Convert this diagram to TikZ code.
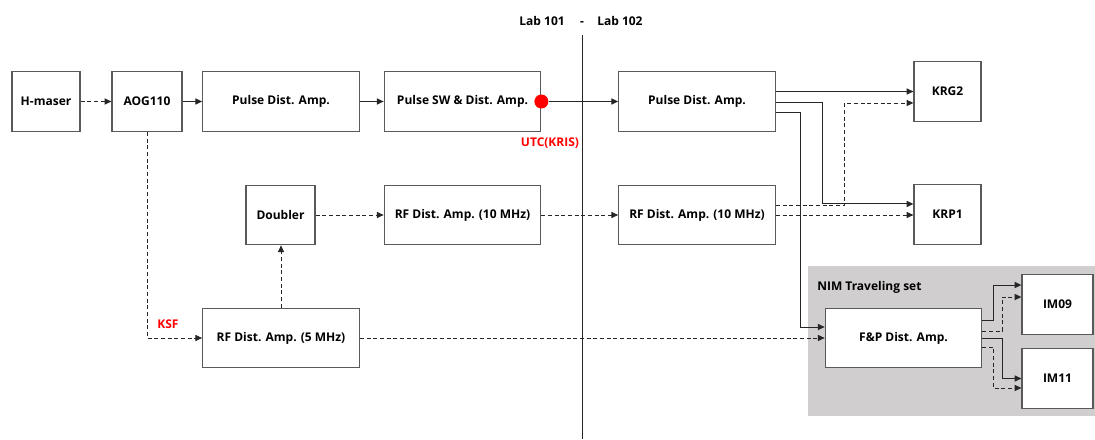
\documentclass[tikz,border=0pt]{standalone}
\usepackage{fontspec}
\setmainfont{Open Sans}
\usetikzlibrary{arrows.meta}
\definecolor{LineDark}{HTML}{262626}
\definecolor{BoxEdge}{HTML}{595959}
\definecolor{NimGray}{HTML}{D0CECE}
\definecolor{MarkRed}{HTML}{FF0000}
\tikzset{
  blk/.style={rectangle,draw=BoxEdge,fill=white,line width=0.9pt,inner sep=0pt,align=center,font=\fontsize{9}{11}\selectfont\bfseries,minimum height=44.6pt},
  wideblk/.style={blk,minimum width=117.4pt},
  narrowblk/.style={blk,minimum width=51.75pt},
  sline/.style={-{Triangle[length=5pt,width=4.5pt]},line width=0.75pt,color=LineDark},
  dline/.style={sline,line width=0.7pt,dash pattern=on 3pt off 2pt},
  redlbl/.style={font=\fontsize{9}{11}\selectfont\bfseries,text=MarkRed,inner sep=0pt},
  lablbl/.style={font=\fontsize{9}{11}\selectfont\bfseries,inner sep=0pt},
}

\begin{document}
\begin{tikzpicture}[x=0.75pt,y=-0.75pt]
  \useasboundingbox (0,0) rectangle (1095,439);

  % NIM traveling set area
  \fill[NimGray] (808,266) rectangle (1095,416);
  \node[lablbl, anchor=west] (nimlbl) at (817,287) {NIM Traveling set};

  % Lab border
  \draw[line width=0.7pt,color=LineDark] (582,35) -- (582,439);
  \node[lablbl, anchor=base east] (lab1) at (565,25) {Lab 101};
  \node[lablbl, anchor=base] (labsep) at (582,25) {-};
  \node[lablbl, anchor=base west] (lab2) at (597,25) {Lab 102};

  % Row 1: pulse chain
  \node[narrowblk, minimum width=51pt] (hmaser) at (46,101.5) {H-maser};
  \node[narrowblk, minimum width=52.5pt] (aog) at (147,101.5) {AOG110};
  \node[wideblk] (pda1) at (281,101.5) {Pulse Dist. Amp.};
  \node[wideblk] (psw) at (462.5,101.5) {Pulse SW \& Dist. Amp.};
  \node[wideblk] (pda2) at (697,101.5) {Pulse Dist. Amp.};
  \node[circle, fill=MarkRed, minimum size=10.5pt, inner sep=0pt] (utc) at (psw.east) {};
  \node[redlbl] (utclbl) at (550,143) {UTC(KRIS)};

  % Row 2: 10 MHz chain
  \node[narrowblk] (dbl) at (280.5,215) {Doubler};
  \node[wideblk] (rf1) at (462.5,215) {RF Dist. Amp. (10 MHz)};
  \node[wideblk] (rf2) at (697,215) {RF Dist. Amp. (10 MHz)};

  % Row 3: 5 MHz chain
  \node[wideblk] (rf5) at (281,338) {RF Dist. Amp. (5 MHz)};
  \node[wideblk] (fp) at (903.5,338) {F\&P Dist. Amp.};

  % Receivers
  \node[narrowblk, minimum width=50.25pt] (krg2) at (947.5,91.5) {KRG2};
  \node[narrowblk, minimum width=50.25pt] (krp1) at (947.5,214.5) {KRP1};
  \node[narrowblk, minimum width=53.25pt] (im09) at (1057.5,304.5) {IM09};
  \node[narrowblk, minimum width=53.25pt] (im11) at (1057.5,378.5) {IM11};

  % Arrows row 1
  \draw[dline] (hmaser) -- (aog);
  \draw[sline] (aog) -- (pda1);
  \draw[sline] (pda1) -- (psw);
  \draw[sline] (utc) -- (pda2);
  % Arrows pda2 -> receivers
  \draw[sline] (pda2.east |- krg2.west) -- (krg2.west);
  \draw[sline] ([yshift=-0.9pt]pda2.east) -- ++(47,0) |- ([yshift=7.9pt]krp1.west);
  \draw[sline] ([yshift=-8.6pt]pda2.east) -- ++(25,0) |- ([yshift=8.25pt]fp.west);
  % Arrows 10 MHz
  \draw[dline] (dbl) -- (rf1);
  \draw[dline] (rf1) -- (rf2);
  \draw[dline] ([yshift=7.5pt]rf2.east) -- ++(69,0) |- ([yshift=-8.6pt]krg2.west);
  \draw[dline] (rf2.east) -- (rf2.east -| krp1.west);
  % Arrows 5 MHz
  \draw[dline] (aog.south) |- node[redlbl, pos=0.69, above=7pt] (ksf) {KSF} (rf5.west);
  \draw[dline] (rf5.north) -- (rf5.north |- dbl.south);
  \draw[dline] (rf5) -- (fp);
  % Arrows F&P -> IM
  \draw[sline] ([yshift=13.5pt]fp.east) -- ++(11,0) |- ([yshift=14.6pt]im09.west);
  \draw[dline] ([yshift=5.25pt]fp.east) -- ++(20,0) |- ([yshift=5.6pt]im09.west);
  \draw[sline] (fp.east) -- ++(20,0) |- (im11.west);
  \draw[dline] ([yshift=-6.75pt]fp.east) -- ++(11,0) |- ([yshift=-7.1pt]im11.west);
\end{tikzpicture}
\end{document}
